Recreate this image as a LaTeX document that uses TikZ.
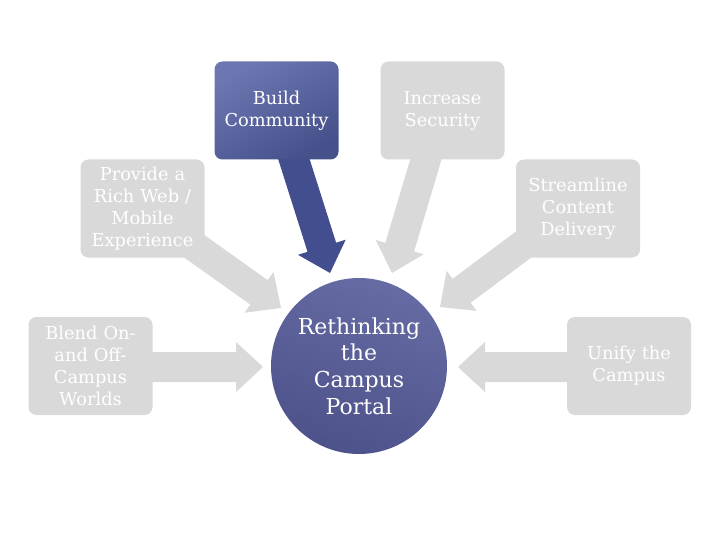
\documentclass[tikz,border=0pt]{standalone}
\usepackage{fontspec}
\setmainfont{DejaVu Serif}
\usetikzlibrary{calc}
\definecolor{boxgray}{HTML}{D9D9D9}
\definecolor{blueA}{HTML}{6C77B1}
\definecolor{blueB}{HTML}{46518C}
\definecolor{bluearrow}{HTML}{424E8E}
\definecolor{circA}{HTML}{666BA3}
\definecolor{circB}{HTML}{4E528A}
\newcommand\blockarrow[3]{%
  \fill[#3] ($(#1)!15pt!90:(#2)$) -- ($($(#2)!27pt!(#1)$)!15pt!90:(#2)$)
    -- ($($(#2)!27pt!(#1)$)!25pt!90:(#2)$) -- (#2)
    -- ($($(#2)!27pt!(#1)$)!25pt!-90:(#2)$) -- ($($(#2)!27pt!(#1)$)!15pt!-90:(#2)$)
    -- ($(#1)!15pt!-90:(#2)$) -- cycle;}
\tikzset{
  goal/.style={rectangle, rounded corners=8pt, minimum width=124pt, minimum height=98pt,
    inner sep=2pt, text width=120pt, align=center, text=white, font=\fontsize{17.8}{22}\selectfont},
  graygoal/.style={goal, fill=boxgray},
  bluegoal/.style={goal, top color=blueA, bottom color=blueB, shading angle=30},
  hub/.style={circle, minimum size=176pt, inner sep=0pt, align=center, text=white,
    font=\fontsize{22}{26.7}\selectfont, top color=circA, bottom color=circB, shading angle=-20}
}
\begin{document}
\begin{tikzpicture}[x=1pt,y=-1pt]
\useasboundingbox (0,0) rectangle (720,540);
\fill[white] (0,0) rectangle (720,540);
% arrow anchor coordinates
\coordinate (sBuild) at (287.5,139);
\coordinate (tBuild) at (330,273);
\coordinate (sInc) at (432,139);
\coordinate (tInc) at (392,273);
\coordinate (sProv) at (170,229);
\coordinate (tProv) at (281,308);
\coordinate (sStr) at (551,224);
\coordinate (tStr) at (440,307);
\coordinate (sBlend) at (140,367);
\coordinate (tBlend) at (263,367);
\coordinate (sUni) at (580,367);
\coordinate (tUni) at (458,367);
% arrows
\blockarrow{sInc}{tInc}{boxgray}
\blockarrow{sProv}{tProv}{boxgray}
\blockarrow{sStr}{tStr}{boxgray}
\blockarrow{sBlend}{tBlend}{boxgray}
\blockarrow{sUni}{tUni}{boxgray}
\blockarrow{sBuild}{tBuild}{bluearrow}
% boxes
\node[bluegoal] (build) at (276.5,110.5) {Build\\Community};
\node[graygoal] (inc) at (442.5,110.5) {Increase\\Security};
\node[graygoal] (prov) at (142.5,208.5) {Provide a\\Rich Web /\\Mobile\\Experience};
\node[graygoal] (str) at (578,208.5) {Streamline\\Content\\Delivery};
\node[graygoal] (blend) at (90.5,366) {Blend On-\\and Off-\\Campus\\Worlds};
\node[graygoal] (uni) at (629,366) {Unify the\\Campus};
\node[hub] (portal) at (359,366) {Rethinking\\the\\Campus\\Portal};
\end{tikzpicture}
\end{document}
